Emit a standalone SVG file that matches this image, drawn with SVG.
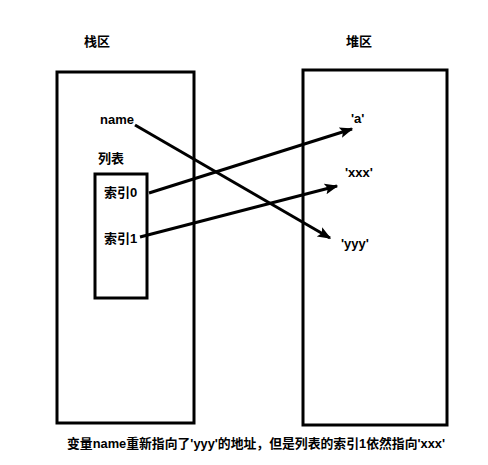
<svg xmlns="http://www.w3.org/2000/svg" width="488" height="465" viewBox="0 0 488 465">
<style>
text{font-family:"Liberation Sans","Noto Sans CJK SC",sans-serif;font-weight:bold;font-size:13px;fill:#000;dominant-baseline:middle}
.box{fill:none;stroke:#000;stroke-width:3}
.conn{stroke:#000;stroke-width:3;fill:none}
</style>
<defs>
<marker id="ah" viewBox="0 0 10 10" refX="9" refY="5" markerWidth="4.5" markerHeight="4.5" orient="auto" markerUnits="strokeWidth">
<path d="M0,1 L10,5 L0,9 L2,5 Z" fill="#000"/>
</marker>
</defs>
<rect width="488" height="465" fill="#fff"/>
<g id="stack">
<rect class="box" x="57" y="72" width="137" height="351"/>
<text x="84" y="43">栈区</text>
<text x="100" y="121">name</text>
</g>
<g id="list">
<text x="98" y="160">列表</text>
<rect class="box" x="95" y="174" width="52" height="124"/>
<text x="104" y="194">索引0</text>
<text x="104" y="240">索引1</text>
</g>
<g id="heap">
<rect class="box" x="303" y="70" width="144" height="355"/>
<text x="346" y="43">堆区</text>
<text x="351" y="120">'a'</text>
<text x="345" y="174">'xxx'</text>
<text x="341" y="245">'yyy'</text>
</g>
<g id="connectors">
<line class="conn" x1="135" y1="125" x2="330" y2="238" marker-end="url(#ah)"/>
<line class="conn" x1="149" y1="193" x2="352" y2="129" marker-end="url(#ah)"/>
<line class="conn" x1="140" y1="237" x2="337" y2="186" marker-end="url(#ah)"/>
</g>
<text x="67" y="445" textLength="378" lengthAdjust="spacingAndGlyphs">变量name重新指向了'yyy'的地址，但是列表的索引1依然指向'xxx'</text>
</svg>
